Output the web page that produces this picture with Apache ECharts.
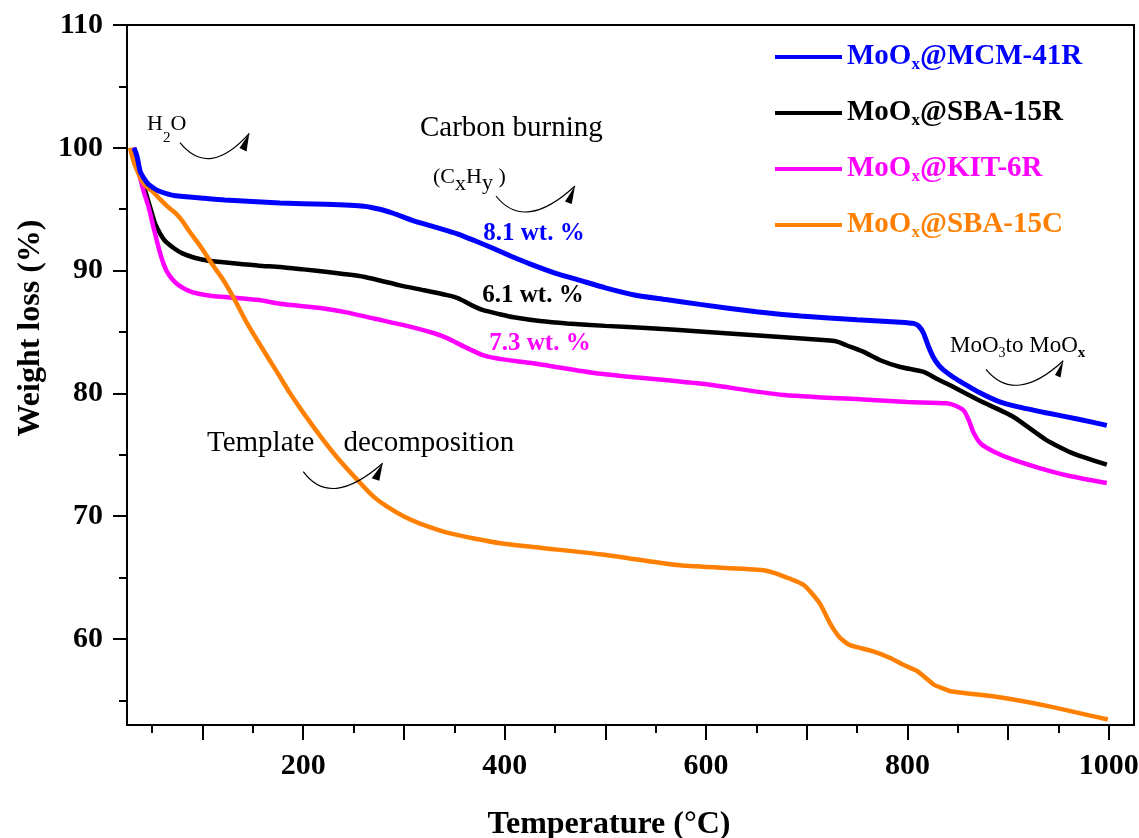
<!DOCTYPE html>
<html>
<head>
<meta charset="utf-8">
<script src="https://cdn.jsdelivr.net/npm/echarts@6/dist/echarts.min.js"></script>
<style>html,body{margin:0;padding:0;background:#fff}#c{width:1139px;height:838px}</style>
</head>
<body>
<div id="c"></div>
<script>
// ---- data (temperature °C, weight %) ----
const seriesNames = ['MoOx@MCM-41R', 'MoOx@SBA-15R', 'MoOx@KIT-6R', 'MoOx@SBA-15C'];
const mcm41R = [[32,100],[35,99.3],[38,98.1],[42,97.5],[46,97.05],[51,96.75],[56,96.5],[65,96.25],[73,96.1],[100,95.9],[122,95.75],[177,95.5],[222,95.4],[260,95.25],[276,95.0],[290,94.65],[309,94.07],[333,93.5],[353,93.0],[370,92.45],[389,91.8],[407,91.15],[425,90.55],[450,89.8],[475,89.2],[500,88.6],[530,88.0],[560,87.65],[594,87.25],[650,86.65],[694,86.3],[750,86.0],[793,85.8],[806,85.7],[811,85.5],[816,84.9],[821,83.8],[826,82.9],[831,82.3],[836,81.9],[846,81.3],[856,80.8],[872,80.05],[889,79.4],[910,78.9],[939,78.4],[970,77.9],[998,77.4]];
const sba15R = [[31,100],[34,99.2],[38,97.9],[42,96.8],[46,95.7],[50,94.6],[53,93.8],[58,93.0],[63,92.4],[72,91.8],[80,91.4],[92,91.05],[106,90.8],[130,90.6],[156,90.4],[177,90.3],[200,90.1],[222,89.9],[260,89.5],[296,88.8],[320,88.4],[343,88.0],[352,87.8],[360,87.5],[368,87.15],[378,86.8],[395,86.45],[409,86.2],[435,85.9],[462,85.7],[500,85.5],[545,85.3],[594,85.05],[674,84.6],[723,84.3],[731,84.2],[740,83.9],[756,83.4],[773,82.7],[793,82.15],[816,81.75],[829,81.2],[839,80.8],[872,79.4],[905,78.1],[938,76.2],[965,75.1],[998,74.2]];
const kit6R = [[31,100],[34,99.4],[36.5,98.1],[41.4,96.5],[46.4,95.2],[51.4,93.5],[56.3,91.9],[61.3,90.55],[66.2,89.7],[72.9,89.05],[79.5,88.65],[89.5,88.25],[106,87.98],[156,87.6],[177,87.3],[222,86.9],[243,86.6],[270,86.1],[303,85.5],[330,84.9],[343,84.5],[360,83.8],[379,83.1],[400,82.75],[428,82.45],[495,81.6],[594,80.8],[674,79.9],[756,79.5],[800,79.3],[839,79.2],[849,78.96],[856,78.6],[861,77.8],[866,76.75],[873,75.9],[886,75.25],[905,74.6],[932,73.9],[960,73.3],[998,72.7]];
const sba15C = [[28,100],[31.5,98.9],[36.4,97.9],[39.8,97.3],[44.8,96.8],[49.8,96.5],[58,95.8],[66.2,95.15],[72.9,94.7],[79.5,94.1],[87.8,93.1],[96,92.2],[102.7,91.4],[109.3,90.55],[120.9,89.2],[131.5,87.7],[144,85.75],[160.6,83.5],[173.9,81.75],[187,80.0],[210,77.3],[233.5,74.8],[256.6,72.7],[269.8,71.6],[283,70.8],[299.6,70.0],[316,69.4],[346,68.6],[396,67.8],[495,66.9],[574,66.0],[657,65.6],[674,65.2],[697,64.4],[713,62.9],[723,61.3],[733,60.1],[743,59.5],[766,59.0],[783,58.46],[796,57.9],[809.5,57.4],[826,56.3],[833,56.05],[843,55.75],[893,55.24],[942,54.5],[999,53.45]];
const seriesColors = ['#0000FF', '#000000', '#FF00FF', '#FF8000'];
const xMajorTicks = [100,200,300,400,500,600,700,800,900,1000];
const xLabels = [200,400,600,800,1000];
const xMinorTicks = [50,150,250,350,450,550,650,750,850,950];
const yMajorTicks = [60,70,80,90,100,110];
const yMinorTicks = [55,65,75,85,95,105];
const lossLabels = ['8.1 wt. %', '6.1 wt. %', '7.3 wt. %'];

const FONT = "'Times New Roman', 'Liberation Serif', serif";
const chart = echarts.init(document.getElementById('c'), null, {renderer: 'canvas'});

function legendName(n) { return n.replace('MoOx', 'MoO{sub|x}'); }

function arrow(p0, mid, tip, head) {
  const cx = 2 * mid[0] - (p0[0] + tip[0]) / 2;
  const cy = 2 * mid[1] - (p0[1] + tip[1]) / 2;
  return [
    {type: 'bezierCurve', shape: {x1: p0[0], y1: p0[1], x2: tip[0], y2: tip[1], cpx1: cx, cpy1: cy},
     style: {stroke: '#000', lineWidth: 1.2, fill: null}, z: 100},
    {type: 'polygon', shape: {points: [tip, head[0], head[1]]}, style: {fill: '#000'}, z: 100}
  ];
}
function txt(x, y, text, size, opts) {
  return Object.assign({type: 'text', x: x, y: y, z: 100,
    style: Object.assign({text: text, fontSize: size, fontFamily: FONT, fill: '#000'}, opts || {})});
}
// sequence of text pieces on a common baseline (for subscripts); widths measured at run time
const mctx = document.createElement('canvas').getContext('2d');
function seq(x, baseline, parts) {
  const out = [];
  let cx = x;
  parts.forEach(p => {
    const w = p.b ? 'bold' : 'normal';
    mctx.font = w + ' ' + p.s + 'px ' + FONT;
    out.push({type: 'text', x: cx, y: baseline + (p.d || 0), z: 100,
      style: {text: p.t, fontSize: p.s, fontFamily: FONT, fontWeight: w, fill: '#000', verticalAlign: 'bottom'}});
    cx += mctx.measureText(p.t).width;
  });
  return out;
}
// 'bottom' in zrender = em-box bottom; shift so that baseline lands at the given y
function fixBaseline(items) {
  items.forEach(it => { it.y += Math.round(it.style.fontSize * 0.22); });
  return items;
}

const dataSets = [mcm41R, sba15R, kit6R, sba15C];
const drawOrder = [1, 2, 3, 0];
const series = drawOrder.map(i => ({
  name: seriesNames[i], type: 'line', data: dataSets[i], showSymbol: false, smooth: 0.2,
  lineStyle: {color: seriesColors[i], width: i === 0 ? 5 : 4.5}, itemStyle: {color: seriesColors[i]},
  xAxisIndex: 0, yAxisIndex: 0
}));

const axisCommon = {type: 'value', splitLine: {show: false}};
const option = {
  backgroundColor: '#fff',
  animation: false,
  grid: {left: 127, right: 5, top: 25, bottom: 113, show: true, borderColor: '#000', borderWidth: 2,
    containLabel: false, outerBoundsMode: 'none'},
  xAxis: [
    Object.assign({}, axisCommon, {min: 25, max: 1025, position: 'bottom',
      name: 'Temperature (°C)', nameLocation: 'middle', nameGap: 84,
      nameTextStyle: {fontFamily: FONT, fontWeight: 'bold', fontSize: 32, color: '#000', padding: [0, 43, 0, 0]},
      axisLine: {show: true, lineStyle: {color: '#000', width: 2}},
      axisTick: {show: true, customValues: xMajorTicks, length: 15, lineStyle: {color: '#000', width: 2}},
      axisLabel: {customValues: xLabels, margin: 26, formatter: v => String(v),
        fontFamily: FONT, fontWeight: 'bold', fontSize: 30, color: '#000'}}),
    Object.assign({}, axisCommon, {min: 25, max: 1025, position: 'bottom',
      axisLine: {show: false},
      axisTick: {show: true, customValues: xMinorTicks, length: 8, lineStyle: {color: '#000', width: 2}},
      axisLabel: {show: false}})
  ],
  yAxis: [
    Object.assign({}, axisCommon, {min: 53, max: 110, position: 'left',
      name: 'Weight loss (%)', nameLocation: 'middle', nameGap: 80, nameRotate: 90,
      nameTextStyle: {fontFamily: FONT, fontWeight: 'bold', fontSize: 32, color: '#000', padding: [0, 0, 0, 94]},
      axisLine: {show: true, lineStyle: {color: '#000', width: 2}},
      axisTick: {show: true, customValues: yMajorTicks, length: 14, lineStyle: {color: '#000', width: 2}},
      axisLabel: {customValues: yMajorTicks, margin: 24, formatter: v => String(v),
        fontFamily: FONT, fontWeight: 'bold', fontSize: 30, color: '#000'}}),
    Object.assign({}, axisCommon, {min: 53, max: 110, position: 'left',
      axisLine: {show: false},
      axisTick: {show: true, customValues: yMinorTicks, length: 8, lineStyle: {color: '#000', width: 2}},
      axisLabel: {show: false}})
  ],
  legend: {
    orient: 'vertical', left: 770, top: 36, itemGap: 24, icon: 'rect', itemWidth: 67, itemHeight: 4,
    data: seriesNames.map((n, i) => ({name: n, itemStyle: {color: seriesColors[i]}, textStyle: {color: seriesColors[i]}})),
    formatter: legendName,
    textStyle: {fontFamily: FONT, fontWeight: 'bold', fontSize: 29, lineHeight: 32,
      rich: {sub: {fontFamily: FONT, fontWeight: 'bold', fontSize: 17, verticalAlign: 'bottom', lineHeight: 2}}}
  },
  graphic: [].concat(
    fixBaseline(seq(147, 130, [{t: 'H', s: 22}, {t: '2', s: 15, d: 13}, {t: 'O', s: 22}])),
    [txt(420, 114, 'Carbon burning', 29)],
    fixBaseline(seq(433, 183, [{t: '(C', s: 22}, {t: 'x', s: 22, d: 7}, {t: 'H', s: 22}, {t: 'y', s: 22, d: 6}, {t: ' )', s: 22}])),
    [
      txt(534, 234, lossLabels[0], 25, {fontWeight: 'bold', fill: '#0000FF', align: 'center', verticalAlign: 'middle'}),
      txt(533, 296, lossLabels[1], 25, {fontWeight: 'bold', fill: '#000', align: 'center', verticalAlign: 'middle'}),
      txt(540, 344, lossLabels[2], 25, {fontWeight: 'bold', fill: '#FF00FF', align: 'center', verticalAlign: 'middle'}),
      txt(207, 429, 'Template    decomposition', 29)
    ],
    fixBaseline(seq(950, 352, [{t: 'MoO', s: 23}, {t: '3', s: 14, d: 5}, {t: 'to MoO', s: 23}, {t: 'x', s: 15, d: 6, b: true}])),
    arrow([180, 142.7], [211.7, 158.3], [249.3, 133.3], [[239.5, 148], [246.5, 151.5]]),
    arrow([496, 196], [530, 211.7], [575, 186], [[565, 201.5], [571.7, 204]]),
    arrow([986, 369.3], [1020, 385], [1063.3, 360.7], [[1055, 375], [1060.5, 377.5]]),
    arrow([303.3, 471.7], [336.7, 488.3], [382.7, 463.3], [[371.7, 478.3], [379.3, 480.7]])
  ),
  series: series
};
chart.setOption(option);
</script>
</body>
</html>
